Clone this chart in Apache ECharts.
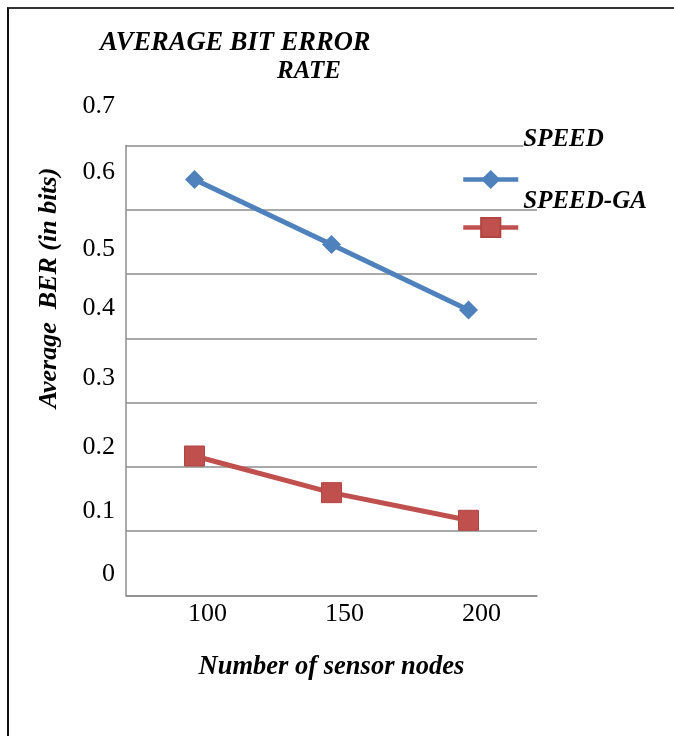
<!DOCTYPE html>
<html>
<head>
<meta charset="utf-8">
<script src="https://cdn.jsdelivr.net/npm/echarts@6/dist/echarts.min.js"></script>
<style>
  html, body { margin: 0; padding: 0; background: #fff; }
  #wrap { position: relative; width: 674px; height: 736px; overflow: hidden; }
  #chart { position: absolute; left: 0; top: 0; width: 674px; height: 736px; }
  #frame { position: absolute; left: 7px; top: 7px; width: 700px; height: 760px;
           border-left: 2px solid #111; border-top: 2px solid #333; pointer-events: none; }
</style>
</head>
<body>
<div id="wrap">
  <div id="chart"></div>
  <div id="frame"></div>
</div>
<script>
// ---- data ----
const titleLine1 = 'AVERAGE BIT ERROR';
const titleLine2 = 'RATE';
const xAxisTitle = 'Number of sensor nodes';
const yAxisTitle = 'Average  BER (in bits)';
const categories = ['100', '150', '200'];
const seriesNames = ['SPEED', 'SPEED-GA'];
const speedValues = [0.647, 0.546, 0.444];
const speedGaValues = [0.217, 0.160, 0.117];
const yTickLabels = ['0', '0.1', '0.2', '0.3', '0.4', '0.5', '0.6', '0.7'];

// ---- styling ----
const serif = '"Liberation Serif", "Times New Roman", serif';
const blue = '#4F81BD';
const red = '#C0504D';
const gridGray = '#8c8c8c';
// upward shift (px) of each y tick label, as in the reference layout
const yLabelShift = [21, 20, 20, 24, 30, 25, 38, 39];
const yRich = {};
yLabelShift.forEach((s, i) => {
  yRich['t' + i] = {
    fontFamily: serif, fontSize: 26, color: '#000',
    padding: [0, 0, 2 * s, 0]
  };
});

const chart = echarts.init(document.getElementById('chart'), null, { renderer: 'canvas' });

const boldItalic = { fontFamily: serif, fontWeight: 'bold', fontStyle: 'italic', fontSize: 25, color: '#000' };
const bi = (size) => Object.assign({}, boldItalic, { fontSize: size });

const option = {
  backgroundColor: '#fff',
  animation: false,
  title: [
    { text: titleLine1, left: 100, top: 30, padding: 0, textStyle: bi(26.5) },
    { text: titleLine2, left: 277, top: 59, padding: 0, textStyle: bi(25) }
  ],
  legend: [
    {
      data: [seriesNames[0]], left: 461, top: 127, padding: 0,
      itemWidth: 55, itemHeight: 24, itemGap: 0, selectedMode: false,
      lineStyle: { width: 4.5 },
      formatter: '{w|{name}}',
      textStyle: Object.assign(bi(25), {
        padding: [0, 0, 80, 0],
        rich: { w: Object.assign(bi(25), { backgroundColor: '#fff' }) }
      })
    },
    {
      data: [seriesNames[1]], left: 461, top: 189, padding: 0,
      itemWidth: 55, itemHeight: 24, itemGap: 0, selectedMode: false,
      lineStyle: { width: 4.5 },
      formatter: '{w|{name}}',
      textStyle: Object.assign(bi(25), {
        padding: [0, 0, 52, 0],
        rich: { w: bi(25) }
      })
    }
  ],
  grid: { left: 126, right: 137, top: 145.5, bottom: 140.5, containLabel: false },
  xAxis: {
    type: 'category',
    data: categories,
    boundaryGap: true,
    name: xAxisTitle,
    nameLocation: 'middle',
    nameGap: 58,
    nameTextStyle: bi(26.5),
    axisLine: { show: true, lineStyle: { color: gridGray, width: 1.5 } },
    axisTick: { show: false },
    axisLabel: {
      fontFamily: serif, fontSize: 26, color: '#000', margin: 6,
      padding: [0, 0, 0, 26]
    },
    splitLine: { show: false }
  },
  yAxis: {
    type: 'value',
    min: 0, max: 0.7, interval: 0.1,
    name: yAxisTitle,
    nameLocation: 'middle',
    nameGap: 64,
    nameTextStyle: Object.assign(bi(26), { padding: [0, 0, 0, 165] }),
    axisLine: { show: true, lineStyle: { color: gridGray, width: 1.5 } },
    axisTick: { show: false },
    axisLabel: {
      margin: 11,
      formatter: (v, i) => '{t' + i + '|' + yTickLabels[i] + '}',
      rich: yRich
    },
    splitLine: { show: true, lineStyle: { color: gridGray, width: 1.5 } }
  },
  series: [
    {
      name: seriesNames[0], type: 'line', data: speedValues,
      symbol: 'diamond', symbolSize: 19,
      lineStyle: { color: blue, width: 5 },
      itemStyle: { color: blue },
      z: 3
    },
    {
      name: seriesNames[1], type: 'line', data: speedGaValues,
      symbol: 'rect', symbolSize: 20,
      lineStyle: { color: red, width: 5 },
      itemStyle: { color: red, borderColor: '#b04541', borderWidth: 1 },
      z: 3
    }
  ]
};
chart.setOption(option);
</script>
</body>
</html>
